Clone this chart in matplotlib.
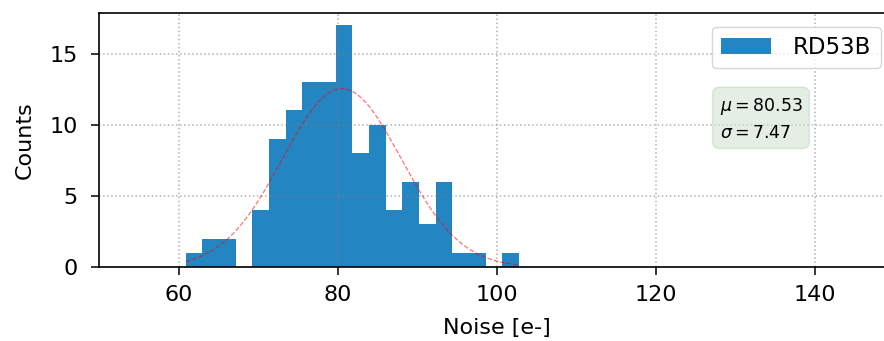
import numpy as np
import matplotlib
matplotlib.use("Agg")
import matplotlib.pyplot as plt

# histogram (20 bins between min and max noise)
noise_min = 60.9
noise_max = 102.8
counts = [1, 2, 2, 0, 4, 9, 11, 13, 13, 17, 8, 10, 4, 6, 3, 6, 1, 1, 0, 1]
label = "RD53B"
mu = 80.53
sigma = 7.47

edges = np.linspace(noise_min, noise_max, len(counts) + 1)
centers = 0.5 * (edges[:-1] + edges[1:])
width = edges[1] - edges[0]

fig = plt.figure(figsize=(8.84, 3.41), dpi=100)
# the reference is cropped on the right, so the axes run past the figure edge
ax = fig.add_axes([0.112, 0.217, 0.8999, 0.745])

ax.hist(centers, bins=edges, weights=counts, color="#2385c2", label=label)

# gaussian curve scaled to the histogram
x = np.linspace(noise_min, noise_max, 200)
amp = sum(counts) * width / (np.sqrt(2 * np.pi) * sigma)
ax.plot(x, amp * np.exp(-0.5 * ((x - mu) / sigma) ** 2), "--", color="red",
        linewidth=0.9, alpha=0.55)

ax.text(0.78, 0.583, f"$\\mu = {mu:.2f}$\n$\\sigma = {sigma:.2f}$",
        transform=ax.transAxes, ha="left", va="center", fontsize=12.5,
        linespacing=1.45,
        bbox=dict(boxstyle="round,pad=0.4", facecolor="#d2e4d2",
                  edgecolor="#c5d8c5", alpha=0.6))

ax.set_xlim(50, 150)
ax.set_xticks([60, 80, 100, 120, 140])
ax.set_yticks([0, 5, 10, 15])
ax.tick_params(labelsize=16, length=6, width=1.1)
ax.tick_params(axis="x", pad=7)
ax.tick_params(axis="y", pad=9.5)
for sp in ax.spines.values():
    sp.set_linewidth(1.2)
ax.set_xlabel("Noise [e-]", fontsize=16, labelpad=9.5)
ax.set_ylabel("Counts", fontsize=16, labelpad=10)
ax.grid(True, linestyle=":", color="gray", alpha=0.6, linewidth=1.1)
ax.legend(loc="upper right", fontsize=16.5, handlelength=2.2,
          handletextpad=0.95, borderaxespad=0.6)

fig.savefig("out.png", dpi=100)
